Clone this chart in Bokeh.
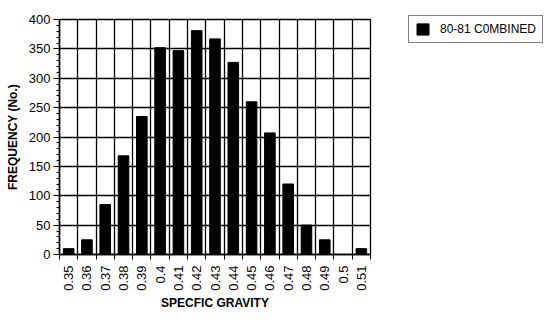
from bokeh.plotting import figure
from bokeh.models import FixedTicker, Legend, LegendItem, Range1d, ColumnDataSource
from bokeh.embed import file_html
from bokeh.resources import INLINE

categories = ["0.35", "0.36", "0.37", "0.38", "0.39", "0.4", "0.41", "0.42", "0.43",
              "0.44", "0.45", "0.46", "0.47", "0.48", "0.49", "0.5", "0.51"]
frequency = [10, 25, 85, 168, 235, 352, 347, 381, 367, 327, 260, 207, 120, 50, 25, 0, 10]
series_name = "80-81 C0MBINED"
y_ticks = [0, 50, 100, 150, 200, 250, 300, 350, 400]

n = len(categories)
centers = [i + 0.5 for i in range(n)]
boundaries = list(range(n + 1))

p = figure(frame_width=311, frame_height=235, output_backend="svg", toolbar_location=None,
           x_range=Range1d(0, n), y_range=Range1d(0, 400),
           min_border_left=59, min_border_top=19, min_border_right=169, min_border_bottom=40)

src = ColumnDataSource(dict(x=centers, top=frequency))
r = p.vbar(x="x", top="top", width=0.58, bottom=0, source=src,
           fill_color="black", line_color="black")

font = "Liberation Sans"

# x axis
p.xaxis.ticker = FixedTicker(ticks=centers, minor_ticks=boundaries)
p.xaxis.major_label_overrides = {c: lab for c, lab in zip(centers, categories)}
p.xaxis.major_label_orientation = 1.5708
p.xaxis.major_tick_out = 0
p.xaxis.major_tick_in = 0
p.xaxis.minor_tick_out = 5
p.xaxis.minor_tick_in = 0
p.xaxis.axis_label = "SPECFIC GRAVITY"
p.xaxis.axis_label_standoff = 2

# y axis
p.yaxis.ticker = FixedTicker(ticks=y_ticks, minor_ticks=list(range(0, 401, 10)))
p.yaxis.major_tick_out = 6
p.yaxis.major_tick_in = 0
p.yaxis.minor_tick_out = 3
p.yaxis.minor_tick_in = 0
p.yaxis.axis_label = "FREQUENCY (No.)"
p.yaxis.axis_label_standoff = 6

for ax in (p.xaxis[0], p.yaxis[0]):
    ax.axis_line_color = "black"
    ax.axis_line_width = 1.5
    ax.major_tick_line_color = "black"
    ax.minor_tick_line_color = "black"
    ax.major_label_text_font = font
    ax.major_label_text_font_size = "13px"
    ax.major_label_text_color = "black"
    ax.axis_label_text_font = font
    ax.axis_label_text_font_size = "12px"
    ax.axis_label_text_font_style = "bold"
    ax.axis_label_text_color = "black"
p.xaxis.major_label_standoff = 6
p.yaxis.major_label_standoff = 3

# grid
p.xgrid.ticker = FixedTicker(ticks=boundaries)
p.xgrid.grid_line_color = "black"
p.xgrid.grid_line_width = 1.3
p.ygrid.ticker = FixedTicker(ticks=y_ticks)
p.ygrid.grid_line_color = "black"
p.ygrid.grid_line_width = 1.3
p.outline_line_color = "black"
p.outline_line_width = 1.3

legend = Legend(items=[LegendItem(label=series_name, renderers=[r])],
                location=(38, 211), orientation="vertical")
legend.border_line_color = "black"
legend.border_line_width = 1
legend.label_text_font = font
legend.label_text_font_size = "12px"
legend.label_text_color = "black"
legend.glyph_width = 15
legend.glyph_height = 14
legend.label_height = 14
legend.padding = 6
legend.spacing = 0
legend.margin = 0
legend.label_standoff = 10
legend.background_fill_alpha = 1
p.add_layout(legend, "right")

open("out.html", "w").write(file_html(p, INLINE))
